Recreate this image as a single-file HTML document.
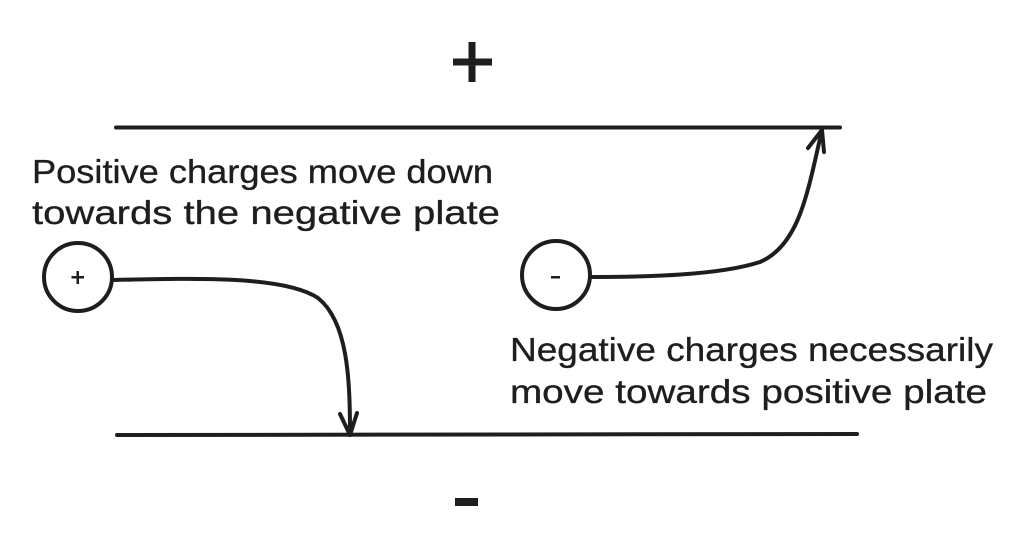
<!DOCTYPE html>
<html><head><meta charset="utf-8"><style>
html,body{margin:0;padding:0;background:#fff;}
svg{display:block;}
text{font-family:"Liberation Sans",sans-serif;fill:#1e1e1e;}
.lbl{stroke:#1e1e1e;stroke-width:0.3;}
</style></head><body>
<svg width="1012" height="539" viewBox="0 0 1012 539" xmlns="http://www.w3.org/2000/svg">
<rect width="1012" height="539" fill="#fff"/>
<g stroke="#1e1e1e" stroke-linecap="round" stroke-linejoin="round" fill="none">
  <!-- plates -->
  <line x1="116" y1="127.5" x2="840" y2="127.5" stroke-width="4"/>
  <line x1="117" y1="435" x2="857" y2="434" stroke-width="4"/>
  <!-- circles -->
  <circle cx="78" cy="277" r="34" stroke-width="4"/>
  <circle cx="556" cy="275" r="34" stroke-width="4"/>
  <!-- left arrow -->
  <path d="M113 280 C 200 278, 285 276, 318 298 C 348 322, 350 380, 350 435" stroke-width="4"/>
  <path d="M340 414 L350 435 L357 413" stroke-width="4"/>
  <!-- right arrow -->
  <path d="M590 277 C 650 277, 720 275, 760 262 C 800 245, 808 190, 822 130" stroke-width="4"/>
  <path d="M808 148 L822 130 L824 152" stroke-width="4"/>
</g>
<!-- big plus -->
<rect x="468.5" y="42" width="7" height="40" fill="#1e1e1e"/>
<rect x="453" y="58.5" width="39" height="7" fill="#1e1e1e"/>
<!-- big minus -->
<rect x="455" y="498" width="23" height="8" fill="#1e1e1e"/>
<!-- small signs -->
<rect x="76.5" y="271" width="2.5" height="13" fill="#1e1e1e"/>
<rect x="71.5" y="276" width="12.5" height="2.5" fill="#1e1e1e"/>
<rect x="551" y="276" width="9" height="2.5" fill="#1e1e1e"/>
<!-- labels -->
<g transform="translate(0,183) scale(1,1.1) translate(0,-183)">
<text class="lbl" x="32" y="183" font-size="30" textLength="461" lengthAdjust="spacingAndGlyphs">Positive charges move down</text>
</g>
<g transform="translate(0,224) scale(1,1.1) translate(0,-224)">
<text class="lbl" x="32" y="224" font-size="30" textLength="468" lengthAdjust="spacingAndGlyphs">towards the negative plate</text>
</g>
<g transform="translate(0,361) scale(1,1.1) translate(0,-361)">
<text class="lbl" x="510" y="361" font-size="30" textLength="483" lengthAdjust="spacingAndGlyphs">Negative charges necessarily</text>
</g>
<g transform="translate(0,403) scale(1,1.1) translate(0,-403)">
<text class="lbl" x="510" y="403" font-size="30" textLength="477" lengthAdjust="spacingAndGlyphs">move towards positive plate</text>
</g>
</svg>
</body></html>
